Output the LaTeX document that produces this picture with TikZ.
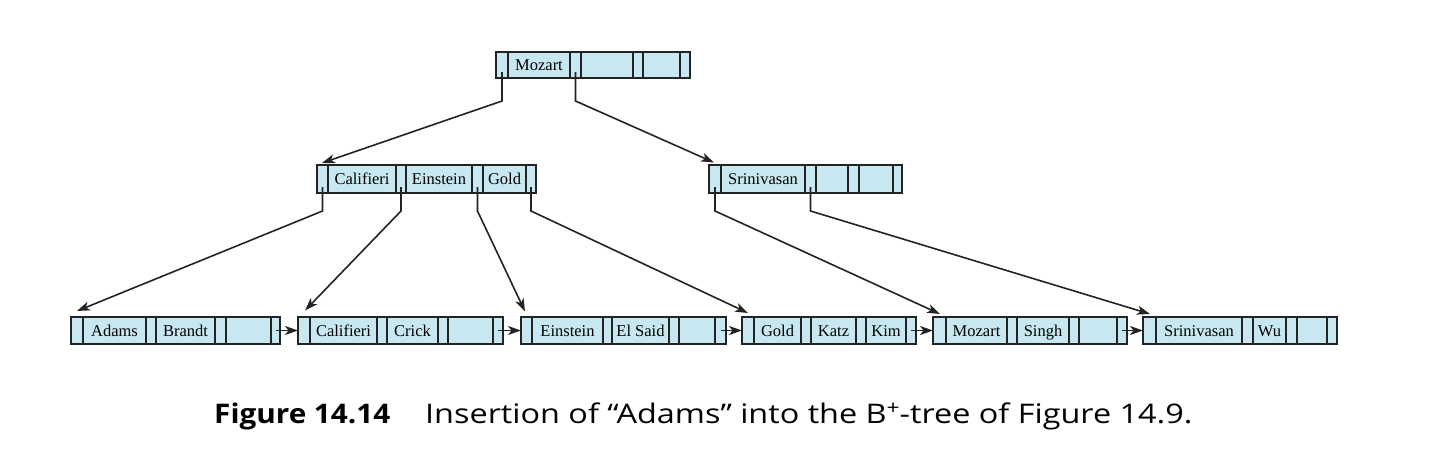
\documentclass[tikz,border=0pt]{standalone}
\usepackage{fontspec}
\setmainfont{Liberation Serif}
\newfontfamily\capreg[FakeStretch=1.2]{Open Sans}
\newfontfamily\capbold[FakeStretch=1.1]{Open Sans}
\usetikzlibrary{arrows.meta,fit}
\definecolor{cellfill}{RGB}{200,232,241}
\definecolor{edge}{RGB}{35,35,35}
\tikzset{
  box/.style={draw=edge,fill=cellfill,line width=1.8pt,inner sep=0pt,outer sep=0pt},
  div/.style={draw=edge,line width=1.8pt},
  key/.style={anchor=base,inner sep=0pt,font=\fontsize{16.5}{18}\selectfont},
  ptr/.style={draw=edge,line width=1.6pt,-{Stealth[length=13pt,width=9pt,inset=3.5pt]}},
}
\newcommand\bbox[6]{% name, x1, y1, x2, y2, divider list
  \node[box,fit={(#2,#3)(#4,#5)}] (#1) {};
  \foreach \xx in {#6} \draw[div] (\xx,#3) -- (\xx,#5);
}
\begin{document}
\begin{tikzpicture}[x=1pt,y=-1pt]
\useasboundingbox (0,0) rectangle (1451,471);
% root
\bbox{root}{496}{52}{690}{78}{508,570,581,633,643,680}
\node[key] (kMozartR) at (539,70.5) {Mozart};
\coordinate (rp0) at (502,72);
\coordinate (rp1) at (575.5,72);
% internal left
\bbox{il}{317}{165}{536}{193}{328,396,406,472,483,526}
\node[key] (kCalI) at (362,184.5) {Califieri};
\node[key] (kEinI) at (439,184.5) {Einstein};
\node[key] (kGoldI) at (504.5,184.5) {Gold};
\coordinate (ilp0) at (322.5,187);
\coordinate (ilp1) at (401,187);
\coordinate (ilp2) at (477.5,187);
\coordinate (ilp3) at (531,187);
\coordinate (ilin) at (322,163);
% internal right
\bbox{ir}{709}{165}{902}{193}{721,805,816,848,859,893}
\node[key] (kSriI) at (763,184.5) {Srinivasan};
\coordinate (irp0) at (715,187);
\coordinate (irp1) at (810.5,187);
\coordinate (irin) at (714,162.5);
% leaves
\bbox{la}{71}{317}{280}{344}{83,146,156,215,226,271}
\node[key] (kAdams) at (114.5,336) {Adams};
\node[key] (kBrandt) at (185.5,336) {Brandt};
\coordinate (lap) at (275.5,330.5);
\coordinate (lain) at (77,311);
\bbox{lb}{298}{317}{503}{344}{310,377,387,438,448,493}
\node[key] (kCalL) at (343.5,336) {Califieri};
\node[key] (kCrick) at (412.5,336) {Crick};
\coordinate (lbp) at (498,330.5);
\coordinate (lbin) at (305,310.5);
\bbox{lc}{521}{317}{726}{344}{532,603,612,669,679,715}
\node[key] (kEinL) at (567.5,336) {Einstein};
\node[key] (kElSaid) at (640.5,336) {El Said};
\coordinate (lcp) at (720.5,330.5);
\coordinate (lcin) at (525,311.5);
\bbox{ld}{742}{317}{916}{344}{754,801,811,856,866,906}
\node[key] (kGoldL) at (777.5,336) {Gold};
\node[key] (kKatz) at (833.5,336) {Katz};
\node[key] (kKim) at (886,336) {Kim};
\coordinate (ldp) at (911,330.5);
\coordinate (ldin) at (748,313);
\bbox{le}{933}{317}{1127}{344}{946,1007,1017,1069,1079,1117}
\node[key] (kMozartL) at (976.5,336) {Mozart};
\node[key] (kSingh) at (1043,336) {Singh};
\coordinate (lep) at (1122,330.5);
\coordinate (lein) at (940,314);
\bbox{lf}{1143}{317}{1337}{344}{1156,1242,1253,1286,1297,1327}
\node[key] (kSriL) at (1199,336) {Srinivasan};
\node[key] (kWu) at (1269.5,336) {Wu};
\coordinate (lfin) at (1150,314);
% tree pointers
\draw[ptr] (rp0) -- ++(0,29) -- (ilin);
\draw[ptr] (rp1) -- ++(0,29) -- (irin);
\draw[ptr] (ilp0) -- ++(0,24) -- (lain);
\draw[ptr] (ilp1) -- ++(0,24) -- (lbin);
\draw[ptr] (ilp2) -- ++(0,24) -- (lcin);
\draw[ptr] (ilp3) -- ++(0,24) -- (ldin);
\draw[ptr] (irp0) -- ++(0,24) -- (lein);
\draw[ptr] (irp1) -- ++(0,24) -- (lfin);
% leaf chain
\draw[ptr] (lap) -- (lb.west);
\draw[ptr] (lbp) -- (lc.west);
\draw[ptr] (lcp) -- (ld.west);
\draw[ptr] (ldp) -- (le.west);
\draw[ptr] (lep) -- (lf.west);
% caption
\node[anchor=base west,inner sep=0pt,font=\capbold\bfseries\fontsize{27}{30}\selectfont] (capnum) at (214,423.5)
  {Figure 14.14};
\node[anchor=base west,inner sep=0pt,font=\capreg\fontsize{27}{30}\selectfont] (captext) at (425,423.5)
  {Insertion of “Adams” into the B\raisebox{0.33em}{\fontsize{19}{19}\selectfont +}-tree of Figure 14.9.};
\end{tikzpicture}
\end{document}
